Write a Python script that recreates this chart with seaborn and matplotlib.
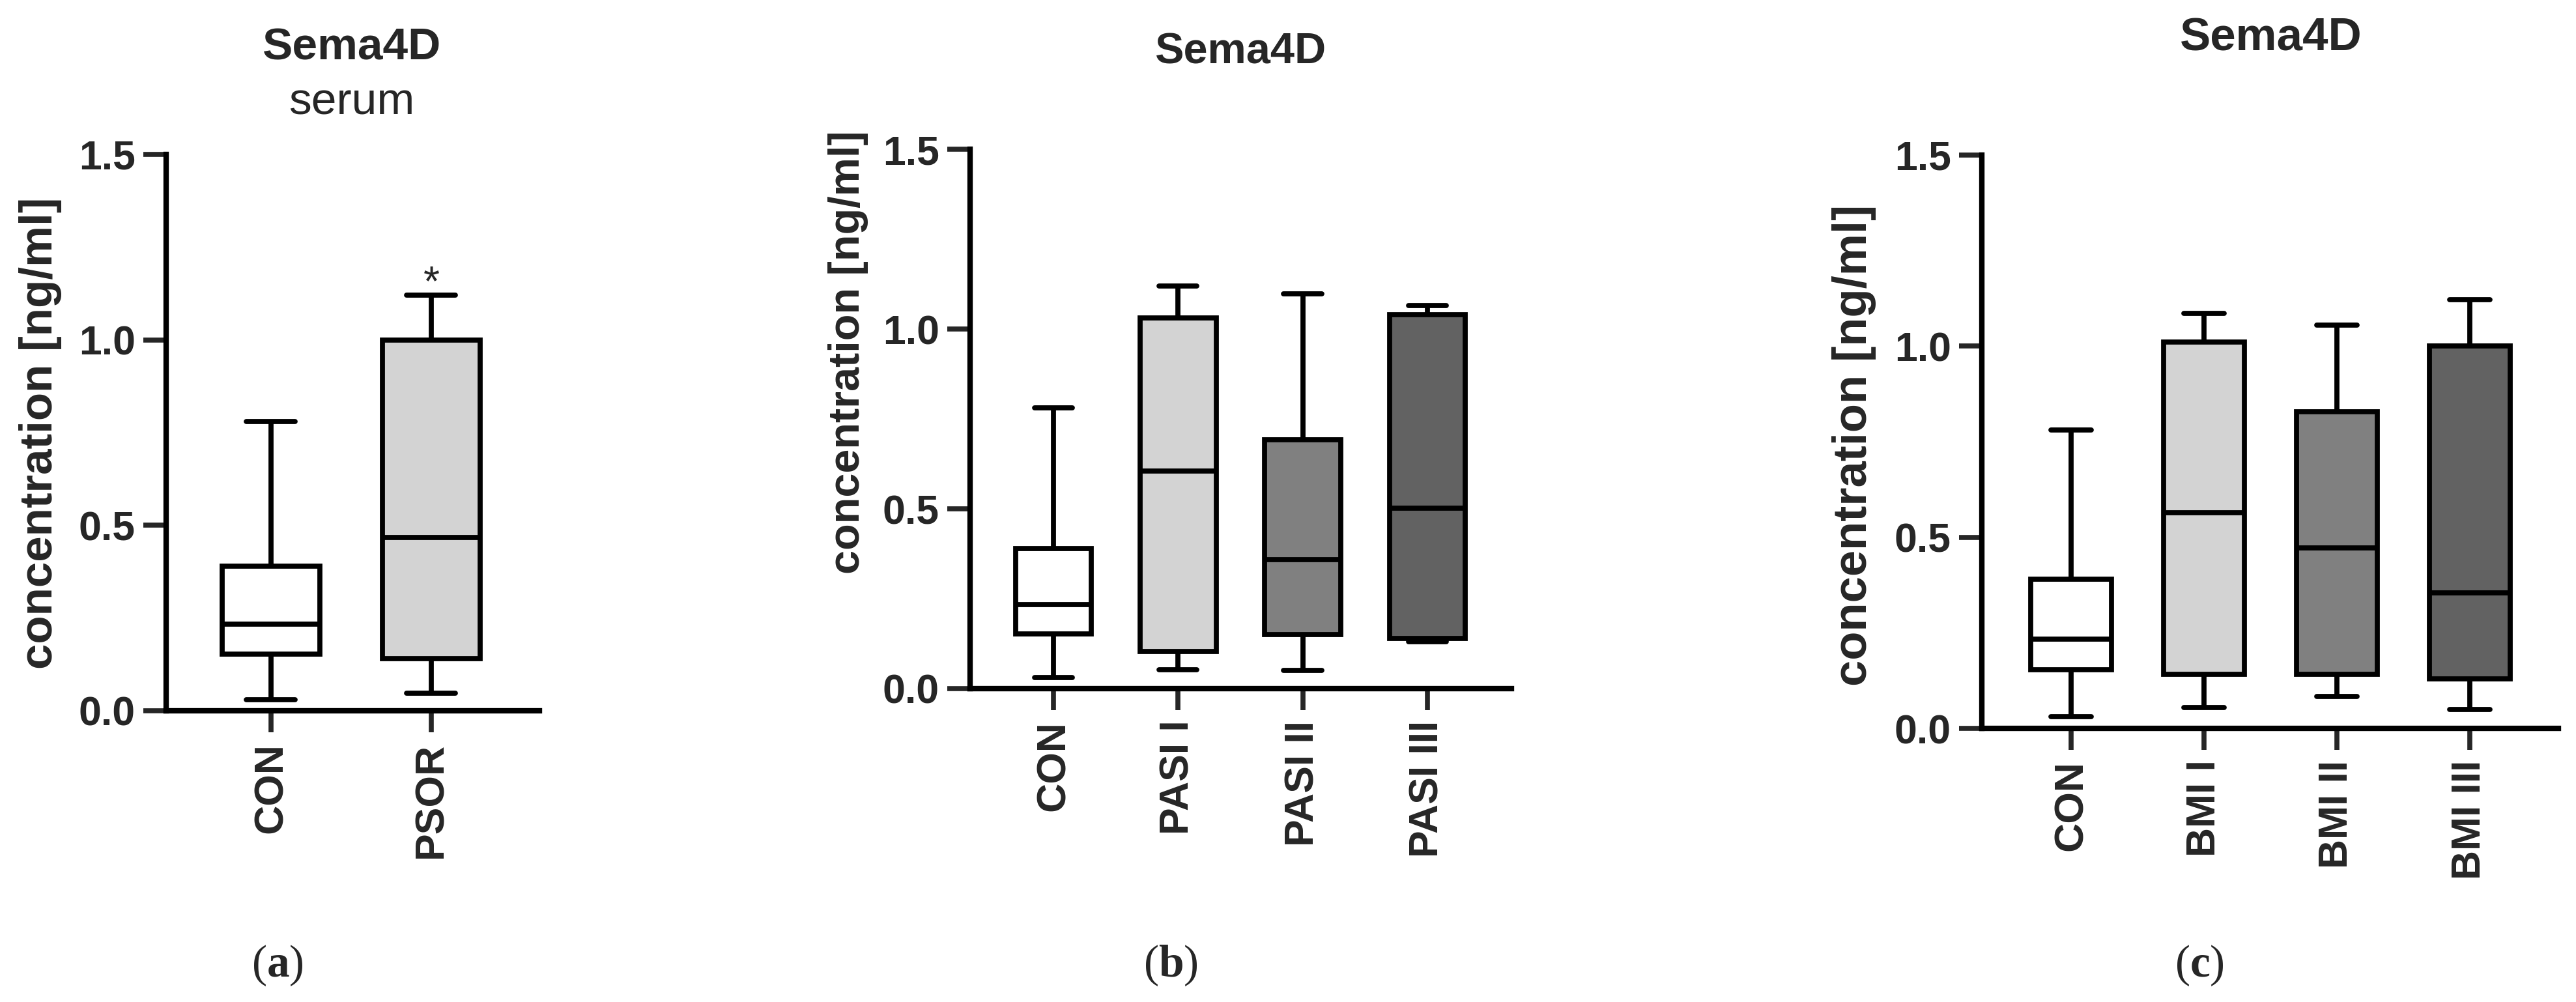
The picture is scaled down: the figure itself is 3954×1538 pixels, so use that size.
import pandas as pd
import matplotlib
matplotlib.use("Agg")
import matplotlib.pyplot as plt
import seaborn as sns

# five-number summaries: min, Q1, median, Q3, max (ng/ml)
con = [0.030, 0.153, 0.233, 0.390, 0.780]
psor = [0.047, 0.141, 0.467, 1.000, 1.120]
pasi_1 = [0.053, 0.103, 0.605, 1.030, 1.120]
pasi_2 = [0.050, 0.151, 0.359, 0.692, 1.097]
pasi_3 = [0.130, 0.140, 0.502, 1.040, 1.065]
bmi_1 = [0.054, 0.142, 0.565, 1.010, 1.085]
bmi_2 = [0.084, 0.142, 0.472, 0.829, 1.055]
bmi_3 = [0.050, 0.130, 0.355, 1.000, 1.122]

groups_a = ["CON", "PSOR"]
groups_b = ["CON", "PASI I", "PASI II", "PASI III"]
groups_c = ["CON", "BMI I", "BMI II", "BMI III"]
yticks = [0.0, 0.5, 1.0, 1.5]

fills = ["#ffffff", "#d3d3d3", "#808080", "#626262"]

sns.set_style("ticks")
plt.rcParams["font.family"] = ["Liberation Sans", "DejaVu Sans"]
plt.rcParams["mathtext.fontset"] = "custom"
plt.rcParams["mathtext.rm"] = "Liberation Serif"
plt.rcParams["mathtext.bf"] = "Liberation Serif:bold"

W, H = 3955, 1538
fig = plt.figure(figsize=(W / 100, H / 100), dpi=100)


def long_table(names, series):
    rows = []
    for name, vals in zip(names, series):
        for v in vals:
            rows.append({"group": name, "value": v})
    return pd.DataFrame(rows)


def box_panel(rect_px, names, series, xlim, label_xy, label_size):
    l, r, y0, y15 = rect_px
    ax = fig.add_axes([l / W, 1 - y0 / H, (r - l) / W, (y0 - y15) / H])
    df = long_table(names, series)
    sns.boxplot(data=df, x="group", y="value", hue="group", order=names,
                palette=dict(zip(names, fills)), whis=(0, 100), width=0.61,
                linewidth=5.6, linecolor="black", showfliers=False,
                legend=False, ax=ax)
    ax.set_xlim(*xlim)
    ax.set_ylim(0, 1.5)
    ax.set_yticks(yticks)
    ax.set_yticklabels([f"{t:.1f}" for t in yticks])
    ax.set_xlabel("")
    sns.despine(ax=ax)
    for side in ["left", "bottom"]:
        ax.spines[side].set_linewidth(6)
        ax.spines[side].set_color("black")
    ax.tick_params(axis="y", length=25, width=5.5, pad=9, labelsize=45)
    ax.tick_params(axis="x", length=24, width=5.5, pad=11, labelsize=45,
                   labelrotation=90)
    for t in ax.get_xticklabels() + ax.get_yticklabels():
        t.set_fontweight("bold")
    ax.set_ylabel("concentration [ng/ml]", fontsize=label_size,
                  fontweight="bold")
    ax.yaxis.set_label_coords(*label_xy)
    ax.yaxis.label.set_va("center")
    return ax


ax_a = box_panel((255, 828, 1091, 237), groups_a, [con, psor],
                 (-0.654, 1.675), (-0.337, 0.499), 51)
ax_b = box_panel((1489, 2320, 1057, 229), groups_b,
                 [con, pasi_1, pasi_2, pasi_3],
                 (-0.669, 3.675), (-0.225, 0.624), 48)
ax_c = box_panel((3042, 3927, 1118, 238), groups_c,
                 [con, bmi_1, bmi_2, bmi_3],
                 (-0.672, 3.667), (-0.221, 0.494), 52)

# significance mark above PSOR
ax_a.text(1, psor[-1], "*", ha="center", va="baseline", fontsize=46)

# titles
fig.text(540 / W, 1 - 74 / H, "Sema4D", ha="center", va="center",
         fontsize=50, fontweight="bold")
fig.text(540 / W, 1 - 157 / H, "serum", ha="center", va="center",
         fontsize=50)
fig.text(1904 / W, 1 - 80 / H, "Sema4D", ha="center", va="center",
         fontsize=48, fontweight="bold")
fig.text(3486 / W, 1 - 59 / H, "Sema4D", ha="center", va="center",
         fontsize=51, fontweight="bold")

# panel letters
for x, letter in [(426, "a"), (1797, "b"), (3376, "c")]:
    fig.text(x / W, 1 - 1482 / H, "(" + r"$\mathbf{" + letter + "}$" + ")",
             ha="center", va="center", fontsize=50,
             family="Liberation Serif")

fig.savefig("out.png", dpi=100, facecolor="white")
